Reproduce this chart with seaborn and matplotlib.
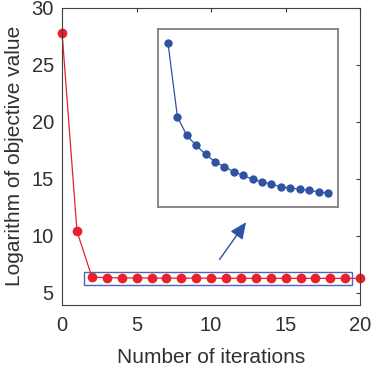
import numpy as np
import pandas as pd
import seaborn as sns
import matplotlib.pyplot as plt
from matplotlib.patches import Rectangle

# values
iteraciones = list(range(0, 21))
objetivo = [27.8, 10.4,
            6.400, 6.341, 6.326, 6.318, 6.311, 6.305, 6.301, 6.297, 6.294,
            6.291, 6.289, 6.287, 6.285, 6.284, 6.283, 6.282, 6.281, 6.280,
            6.279]
x_ticks = [0, 5, 10, 15, 20]
y_ticks = [5, 10, 15, 20, 25, 30]

df = pd.DataFrame({"iter": iteraciones, "obj": objetivo})
df_zoom = df[(df["iter"] >= 2) & (df["iter"] <= 19)]

sns.set_style("white")
plt.rcParams['font.family'] = ['Liberation Sans', 'DejaVu Sans']

rojo = "#e8212b"
azul = "#2f52a3"
gris = "#404040"
texto = "#303030"

fig = plt.figure(figsize=(3.74, 3.67), dpi=100)
ax = fig.add_axes([0.166, 0.169, 0.797, 0.810])

sns.lineplot(data=df, x="iter", y="obj", ax=ax, color=rojo, linewidth=0.9,
             marker="o", markersize=7, markeredgewidth=0, clip_on=False)
ax.set_xlim(0, 20)
ax.set_ylim(3.95, 30)
ax.set_xticks(x_ticks)
ax.set_yticks(y_ticks)
ax.set_xlabel("Number of iterations", fontsize=15, color=texto, labelpad=9)
ax.set_ylabel("Logarithm of objective value", fontsize=15, color=texto, labelpad=5)
ax.tick_params(direction="in", length=3, width=0.8, colors=gris, labelsize=14.5,
               labelcolor=texto, top=True, right=True)
ax.tick_params(axis="x", pad=8)
ax.tick_params(axis="y", pad=6)
for s in ax.spines.values():
    s.set_color(gris)
    s.set_linewidth(0.8)

# recuadro de la zona ampliada
ax.add_patch(Rectangle((1.46, 5.7), 18.0, 1.14, fill=False, edgecolor="#4a68b8",
                       linewidth=1.0, zorder=5))

# flecha hacia el inset
ax.annotate("", xy=(12.45, 11.4), xytext=(10.46, 7.74),
            arrowprops=dict(arrowstyle="-|>,head_length=1.0,head_width=0.45",
                            color=azul, lw=1.0))

# inset
axi = fig.add_axes([0.4225, 0.436, 0.481, 0.485])
sns.lineplot(data=df_zoom, x="iter", y="obj", ax=axi, color=azul, linewidth=0.9,
             marker="o", markersize=6, markeredgewidth=0)
axi.set_xlim(0.94, 20.06)
axi.set_ylim(6.2688, 6.4112)
axi.set_xticks([])
axi.set_yticks([])
axi.set_xlabel("")
axi.set_ylabel("")
for s in axi.spines.values():
    s.set_color("#808080")
    s.set_linewidth(1.3)

plt.savefig("out.png", dpi=100)
